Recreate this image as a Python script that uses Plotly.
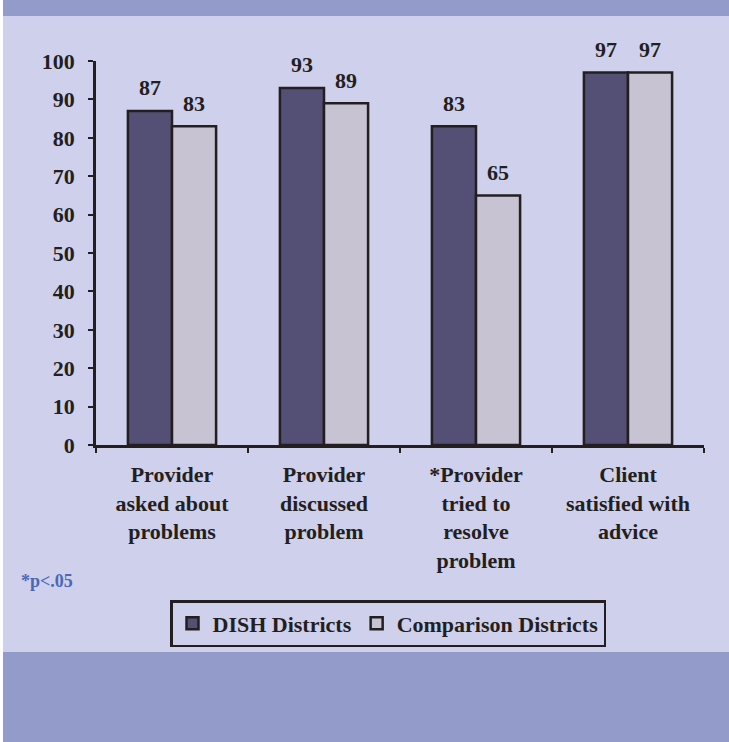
import plotly.graph_objects as go

categories = [
    "Provider<br>asked about<br>problems",
    "Provider<br>discussed<br>problem",
    "*Provider<br>tried to<br>resolve<br>problem",
    "Client<br>satisfied with<br>advice",
]
dish_values = [87, 93, 83, 97]
comparison_values = [83, 89, 65, 97]
series_names = ["DISH Districts", "Comparison Districts"]
y_ticks = [0, 10, 20, 30, 40, 50, 60, 70, 80, 90, 100]
footnote = "*p<.05"

W, H = 729, 742
L, R, T, B = 96, 25, 61, 297
PW, PH = W - L - R, H - T - B


def px_x(p):
    return (p - L) / PW


def px_y(p):
    return (H - B - p) / PH


FAM = "Liberation Serif, Times New Roman, serif"
INK = "#231f20"
BAND = "#939bcb"
LIGHT = "#cfd0ec"
DISH_C = "#544f75"
COMP_C = "#c8c3d2"

fig = go.Figure()
fig.add_trace(go.Bar(
    x=categories, y=dish_values, name=series_names[0],
    marker=dict(color=DISH_C, line=dict(color=INK, width=2.5)),
))
fig.add_trace(go.Bar(
    x=categories, y=comparison_values, name=series_names[1],
    marker=dict(color=COMP_C, line=dict(color=INK, width=2.5)),
))

annotations = []
for vals, shift in ((dish_values, -22), (comparison_values, 22)):
    for c, v in zip(categories, vals):
        annotations.append(dict(
            x=c, y=v, xref="x", yref="y", text=str(v), showarrow=False,
            xshift=shift, yshift=23, yanchor="middle",
            font=dict(family=FAM, size=22, color=INK, weight="bold"),
        ))
annotations.append(dict(
    x=px_x(19), y=px_y(581), xref="paper", yref="paper", text=footnote,
    showarrow=False, xanchor="left", yanchor="middle",
    font=dict(family=FAM, size=18, color="#4a68b8", weight="bold"),
))

shapes = [
    dict(type="rect", xref="paper", yref="paper", layer="below",
         x0=px_x(-5), x1=px_x(3), y0=px_y(H + 5), y1=px_y(-5),
         fillcolor="white", line=dict(width=0)),
    dict(type="rect", xref="paper", yref="paper", layer="below",
         x0=px_x(3), x1=px_x(W + 5), y0=px_y(652), y1=px_y(16),
         fillcolor=LIGHT, line=dict(width=0)),
]

fig.update_layout(
    width=W, height=H,
    margin=dict(l=L, r=R, t=T, b=B),
    paper_bgcolor=BAND,
    plot_bgcolor="rgba(0,0,0,0)",
    barmode="group", bargap=0.42, bargroupgap=0,
    shapes=shapes, annotations=annotations,
    showlegend=True,
    legend=dict(
        orientation="h", x=px_x(170), y=px_y(600), xanchor="left", yanchor="top",
        bgcolor="rgba(0,0,0,0)", bordercolor=INK, borderwidth=2.5,
        font=dict(family=FAM, size=22, color=INK, weight="bold"),
        itemwidth=30,
    ),
    xaxis=dict(
        type="category", tickson="boundaries", ticks="outside", ticklen=5,
        tickwidth=2, tickcolor=INK, showline=True, linecolor=INK, linewidth=2.5,
        showgrid=False, ticklabelstandoff=8,
        tickfont=dict(family=FAM, size=22, color=INK, weight="bold"),
    ),
    yaxis=dict(
        range=[0, 100], tickvals=y_ticks, ticks="outside", ticklen=5,
        tickwidth=2, tickcolor=INK, showline=True, linecolor=INK, linewidth=2.5,
        showgrid=False, zeroline=False, ticklabelstandoff=9,
        tickfont=dict(family=FAM, size=22, color=INK, weight="bold"),
    ),
)

fig.write_html(
    "out.html",
    config={"displayModeBar": False},
    post_script=(
        "document.body.style.margin='0';"
        "document.body.style.background='" + BAND + "';"
    ),
)
